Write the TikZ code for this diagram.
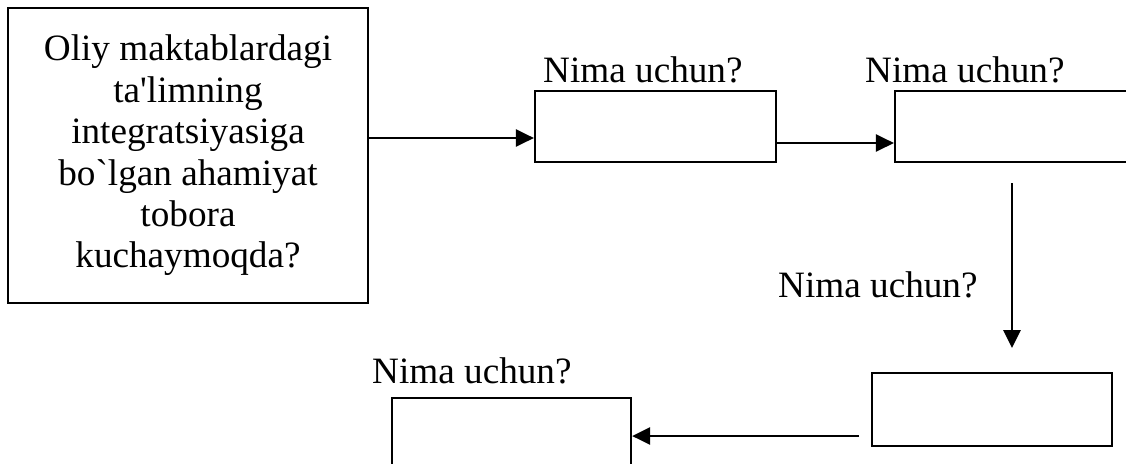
\documentclass[tikz,border=0pt]{standalone}
\usepackage{fontspec}
\setmainfont{Liberation Serif}
\usetikzlibrary{arrows.meta}
\begin{document}
\begin{tikzpicture}[x=1pt,y=-1pt,
  box/.style={draw,line width=2.2pt,inner sep=0pt},
  lbl/.style={inner sep=0pt,anchor=base west,font=\fontsize{37.2}{41.4}\selectfont},
  arr/.style={line width=2.8pt,-{Triangle[length=18pt,width=17pt]}}]
\clip (0,0) rectangle (1126,463);
\fill[white] (0,0) rectangle (1126,463);
\node[box,minimum width=360pt,minimum height=295pt,align=center,
  font=\fontsize{37.2}{41.4}\selectfont] (big) at (188,155.5)
  {Oliy maktablardagi\\ta\textquotesingle limning\\integratsiyasiga\\bo\textasciigrave lgan ahamiyat\\tobora\\kuchaymoqda?};
\node[box,minimum width=241pt,minimum height=71pt] (b2) at (655.5,126.5) {};
\node[box,minimum width=245pt,minimum height=71pt] (b3) at (1017.5,126.5) {};
\node[box,minimum width=240pt,minimum height=73pt] (b4) at (992,409.5) {};
\node[box,minimum width=239pt,minimum height=102pt] (b5) at (511.5,449) {};
\node[lbl] (l1) at (543,82) {Nima uchun?};
\node[lbl] (l2) at (865,82) {Nima uchun?};
\node[lbl] (l3) at (778,297) {Nima uchun?};
\node[lbl] (l4) at (372,383) {Nima uchun?};
\coordinate (v1) at (1012,183);
\coordinate (v2) at (1012,348);
\coordinate (h1) at (859,436);
\draw[arr] (big.east |- 0,138) -- (b2.west |- 0,138);
\draw[arr] (b2.east |- 0,143) -- (b3.west |- 0,143);
\draw[arr] (v1) -- (v2);
\draw[arr] (h1) -- (b5.east |- h1);
\end{tikzpicture}
\end{document}
